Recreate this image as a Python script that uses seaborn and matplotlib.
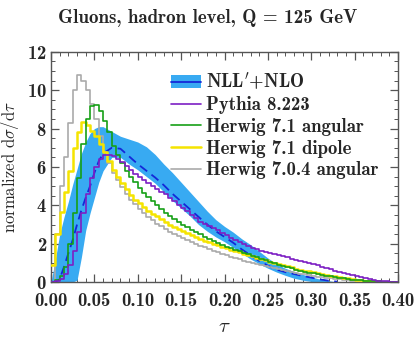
import seaborn as sns
import matplotlib.pyplot as plt
import numpy as np
import pandas as pd
from matplotlib.patches import Patch
from matplotlib.lines import Line2D
from matplotlib.ticker import MultipleLocator

# NLL'+NLO prediction: central value and uncertainty band
tau_nll = [0.000, 0.005, 0.010, 0.015, 0.020, 0.025, 0.030, 0.035, 0.040, 0.045,
           0.050, 0.055, 0.060, 0.070, 0.080, 0.090, 0.100, 0.110, 0.120, 0.130,
           0.140, 0.150, 0.160, 0.170, 0.180, 0.190, 0.200, 0.210, 0.220, 0.230,
           0.240, 0.250, 0.260, 0.270, 0.280, 0.290, 0.300, 0.310, 0.320, 0.330]
nll_central = [0.0, 0.0, 0.15, 0.8, 1.5, 2.2, 3.0, 3.75, 4.4, 5.0,
               5.7, 6.3, 6.7, 7.0, 6.95, 6.55, 6.15, 5.8, 5.45, 5.05,
               4.6, 4.2, 3.8, 3.4, 3.0, 2.65, 2.35, 2.05, 1.7, 1.4,
               1.1, 0.85, 0.65, 0.52, 0.42, 0.32, 0.23, 0.14, 0.07, 0.02]
nll_upper = [0.0, 1.2, 2.5, 3.4, 4.2, 5.1, 5.9, 6.7, 7.3, 7.75,
             8.0, 8.1, 8.1, 7.85, 7.6, 7.45, 7.3, 7.05, 6.65, 6.15,
             5.7, 5.2, 4.7, 4.2, 3.7, 3.25, 2.9, 2.6, 2.25, 1.95,
             1.6, 1.25, 0.95, 0.72, 0.55, 0.4, 0.27, 0.15, 0.07, 0.0]
nll_lower = [0.0, 0.0, 0.0, 0.0, 0.0, 0.0, 0.1, 1.3, 2.7, 3.6,
             4.4, 5.2, 5.8, 6.5, 6.5, 6.15, 5.85, 5.5, 5.15, 4.7,
             4.25, 3.85, 3.45, 3.0, 2.65, 2.35, 2.1, 1.8, 1.5, 1.2,
             0.95, 0.72, 0.52, 0.35, 0.2, 0.1, 0.03, 0.0, 0.0, 0.0]

# Monte Carlo histograms, bins of width 0.005 from 0 to 0.4
pythia = [0.0, 0.05, 0.15, 0.4, 0.9, 1.6, 2.6, 3.6, 4.6, 5.4,
          6.0, 6.4, 6.6, 6.6, 6.55, 6.4, 6.25, 6.05, 5.85, 5.65,
          5.5, 5.3, 5.15, 5.0, 4.85, 4.72, 4.6, 4.4, 4.2, 4.0,
          3.85, 3.68, 3.5, 3.32, 3.15, 3.02, 2.9, 2.8, 2.7, 2.58,
          2.45, 2.32, 2.2, 2.1, 2.0, 1.9, 1.8, 1.7, 1.6, 1.55,
          1.5, 1.45, 1.4, 1.34, 1.28, 1.22, 1.15, 1.1, 1.05, 1.0,
          0.95, 0.88, 0.8, 0.73, 0.66, 0.6, 0.54, 0.48, 0.42, 0.36,
          0.3, 0.24, 0.19, 0.15, 0.11, 0.08, 0.05, 0.03, 0.02, 0.01]
herwig71_angular = [0.0, 0.1, 0.3, 0.8, 2.0, 3.6, 5.4, 7.2, 8.5, 9.2,
                    9.25, 8.9, 8.4, 7.8, 7.1, 6.6, 6.2, 5.8, 5.5, 5.2,
                    4.9, 4.65, 4.45, 4.25, 4.0, 3.8, 3.6, 3.45, 3.3, 3.15,
                    3.0, 2.85, 2.72, 2.6, 2.48, 2.36, 2.25, 2.15, 2.05, 1.95,
                    1.85, 1.77, 1.69, 1.61, 1.53, 1.45, 1.37, 1.29, 1.21, 1.13,
                    1.05, 0.98, 0.91, 0.84, 0.77, 0.71, 0.65, 0.59, 0.54, 0.49,
                    0.45, 0.41, 0.37, 0.33, 0.29, 0.25, 0.22, 0.19, 0.16, 0.13,
                    0.11, 0.09, 0.07, 0.05, 0.04, 0.03, 0.02, 0.01, 0.0, 0.0]
herwig71_dipole = [0.9, 2.5, 3.65, 4.7, 5.8, 7.0, 7.8, 8.35, 8.2, 7.9,
                   7.6, 7.2, 6.8, 6.3, 5.85, 5.5, 5.15, 4.85, 4.55, 4.3,
                   4.1, 3.9, 3.72, 3.56, 3.42, 3.28, 3.14, 3.0, 2.88, 2.76,
                   2.65, 2.54, 2.44, 2.34, 2.25, 2.16, 2.08, 2.0, 1.92, 1.84,
                   1.76, 1.69, 1.62, 1.55, 1.48, 1.41, 1.34, 1.27, 1.2, 1.13,
                   1.07, 1.0, 0.94, 0.88, 0.82, 0.76, 0.7, 0.65, 0.6, 0.55,
                   0.5, 0.45, 0.41, 0.37, 0.33, 0.29, 0.25, 0.22, 0.19, 0.16,
                   0.13, 0.1, 0.08, 0.06, 0.04, 0.03, 0.02, 0.01, 0.01, 0.0]
herwig704_angular = [0.0, 2.5, 5.0, 6.5, 8.3, 10.0, 10.8, 10.5, 10.0, 9.3,
                     8.5, 7.6, 6.8, 6.2, 5.7, 5.3, 4.95, 4.6, 4.3, 4.05,
                     3.8, 3.6, 3.4, 3.22, 3.05, 2.9, 2.76, 2.63, 2.5, 2.4,
                     2.3, 2.2, 2.1, 2.0, 1.9, 1.81, 1.72, 1.63, 1.55, 1.47,
                     1.4, 1.33, 1.26, 1.19, 1.12, 1.06, 1.0, 0.94, 0.88, 0.82,
                     0.77, 0.72, 0.67, 0.62, 0.57, 0.52, 0.48, 0.44, 0.4, 0.36,
                     0.32, 0.28, 0.25, 0.22, 0.19, 0.16, 0.14, 0.12, 0.1, 0.08,
                     0.06, 0.05, 0.04, 0.03, 0.02, 0.01, 0.01, 0.0, 0.0, 0.0]

labels = ["NLL$'$+NLO", "Pythia 8.223", "Herwig 7.1 angular",
          "Herwig 7.1 dipole", "Herwig 7.0.4 angular"]

sns.set_theme(style="ticks")
plt.rcParams['font.family'] = ['cmb10', 'DejaVu Serif']
plt.rcParams['mathtext.fontset'] = 'cm'
plt.rcParams['axes.formatter.use_mathtext'] = True

band_color = "#38aaf2"
mc_styles = [
    (herwig704_angular, "#aaaaaa", 1.2),
    (herwig71_dipole, "#f5e400", 1.8),
    (herwig71_angular, "#16a016", 1.2),
    (pythia, "#7d1fc4", 1.2),
]

fig, ax = plt.subplots(figsize=(4.15, 3.39), dpi=100)
fig.subplots_adjust(left=0.123, right=0.959, top=0.847, bottom=0.168)

# uncertainty band and central curve
ax.fill_between(tau_nll, nll_lower, nll_upper, color=band_color, lw=0, zorder=1)
sns.lineplot(x=tau_nll, y=nll_central, ax=ax, color="#1428d8", lw=1.3,
             linestyle=(0, (5, 3)), zorder=3)

edges = [round(0.005 * i, 3) for i in range(81)]
centers = [e + 0.0025 for e in edges[:-1]]
for vals, col, lw in mc_styles:
    df = pd.DataFrame({"tau": centers, "w": vals})
    sns.histplot(data=df, x="tau", weights="w", bins=edges, element="step",
                 fill=False, color=col, linewidth=lw, ax=ax, zorder=4)

ax.set_xlim(0, 0.4)
ax.set_ylim(0, 12)
ax.xaxis.set_major_locator(MultipleLocator(0.05))
ax.xaxis.set_minor_locator(MultipleLocator(0.01))
ax.yaxis.set_major_locator(MultipleLocator(2))
ax.yaxis.set_minor_locator(MultipleLocator(0.5))
ax.xaxis.set_major_formatter(plt.FormatStrFormatter('%.2f'))
ax.tick_params(which="both", direction="in", top=True, right=True,
               color="#555555", labelsize=13.5)
ax.tick_params(which="major", length=6, width=0.9)
ax.tick_params(which="minor", length=3, width=0.7)
ax.tick_params(axis="x", pad=7)
ax.tick_params(axis="y", pad=3)
for sp in ax.spines.values():
    sp.set_color("#555555")
    sp.set_linewidth(1.0)

ax.set_xlabel(r"$\tau$", fontsize=15, labelpad=5)
ax.set_ylabel(r"normalized d$\sigma$/d$\tau$", fontsize=12, labelpad=4,
              family="cmr10")
fig.suptitle("Gluons, hadron level, Q = 125 GeV", fontsize=13.7, y=0.972)

handles = [
    (Patch(facecolor=band_color, edgecolor="none"),
     Line2D([], [], color="#1428d8", lw=1.3)),
    Line2D([], [], color="#7d1fc4", lw=1.2),
    Line2D([], [], color="#16a016", lw=1.2),
    Line2D([], [], color="#f5e400", lw=1.8),
    Line2D([], [], color="#aaaaaa", lw=1.2),
]
ax.legend(handles, labels, loc="upper right", bbox_to_anchor=(0.983, 0.973),
          frameon=False, fontsize=13.5, handlelength=1.6, handletextpad=0.3,
          labelspacing=0.2, borderaxespad=0.3)

plt.savefig("out.png", dpi=100)
